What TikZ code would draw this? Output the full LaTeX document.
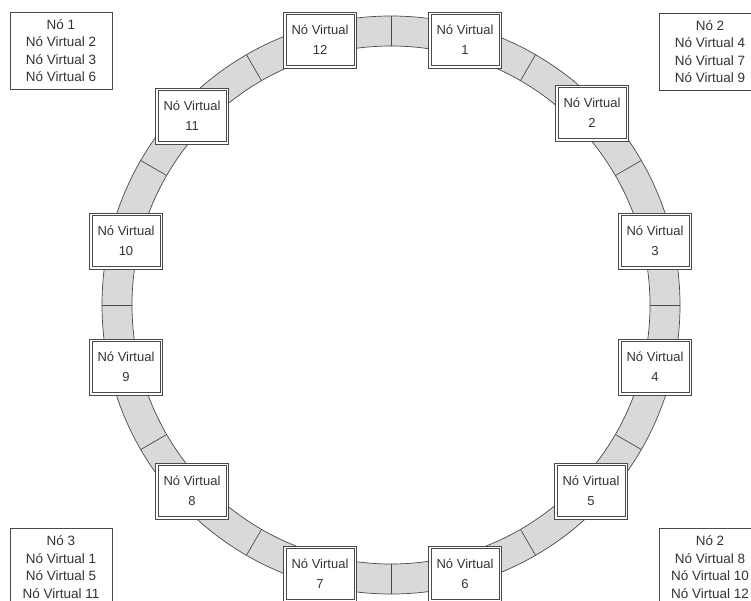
\documentclass[tikz,border=0pt]{standalone}
\usepackage{fontspec}
\setmainfont{Liberation Sans}
\usetikzlibrary{calc}
\definecolor{ringfill}{HTML}{D9D9D9}
\definecolor{edge}{HTML}{4A4A4A}
\definecolor{txt}{HTML}{333333}
\begin{document}
\begin{tikzpicture}[x=1pt,y=-1pt,
  vnode/.style={draw=edge, line width=0.8pt, fill=white,
    minimum width=73pt, minimum height=56pt, inner sep=0pt, align=center,
    font=\fontsize{13}{20}\selectfont, text=txt},
  innerframe/.style={draw=edge, line width=0.8pt},
  hostbox/.style={draw=edge, line width=0.8pt, fill=white, minimum width=102pt,
    minimum height=77pt, inner sep=0pt, align=center,
    font=\fontsize{13.5}{17.5}\selectfont, text=txt},
  ringline/.style={draw=edge, line width=0.7pt}]
\useasboundingbox (0,0) rectangle (751,600);
\clip (0,0) rectangle (751,600);
\fill[white] (0,0) rectangle (751,600);
\coordinate (C) at (391,305);
\fill[ringfill, even odd rule] (C) circle[radius=289pt] (C) circle[radius=259pt];
\draw[ringline] (C) circle[radius=289pt];
\draw[ringline] (C) circle[radius=259pt];
\foreach \a in {0,30,...,330}
  \draw[ringline] ($(C)+(\a:259pt)$) -- ($(C)+(\a:289pt)$);
\node[vnode] (v1)  at (465,40)  {Nó Virtual\\1};
\node[vnode] (v2)  at (592,113) {Nó Virtual\\2};
\node[vnode] (v3)  at (655,241) {Nó Virtual\\3};
\node[vnode] (v4)  at (655,367) {Nó Virtual\\4};
\node[vnode] (v5)  at (591,491) {Nó Virtual\\5};
\node[vnode] (v6)  at (465,574) {Nó Virtual\\6};
\node[vnode] (v7)  at (320,574) {Nó Virtual\\7};
\node[vnode] (v8)  at (192,491) {Nó Virtual\\8};
\node[vnode] (v9)  at (126,367) {Nó Virtual\\9};
\node[vnode] (v10) at (126,241) {Nó Virtual\\10};
\node[vnode] (v11) at (192,116) {Nó Virtual\\11};
\node[vnode] (v12) at (320,40)  {Nó Virtual\\12};
\foreach \n in {v1,v2,v3,v4,v5,v6,v7,v8,v9,v10,v11,v12}
  \draw[innerframe] ($(\n.north west)+(3,3)$) rectangle ($(\n.south east)+(-3,-3)$);
\node[hostbox] (h1) at (61,50.5)  {Nó 1\\Nó Virtual 2\\Nó Virtual 3\\Nó Virtual 6};
\node[hostbox] (h2) at (710,51.5) {Nó 2\\Nó Virtual 4\\Nó Virtual 7\\Nó Virtual 9};
\node[hostbox] (h3) at (61,567)   {Nó 3\\Nó Virtual 1\\Nó Virtual 5\\Nó Virtual 11};
\node[hostbox] (h4) at (710,567)  {Nó 2\\Nó Virtual 8\\Nó Virtual 10\\Nó Virtual 12};
\end{tikzpicture}
\end{document}
